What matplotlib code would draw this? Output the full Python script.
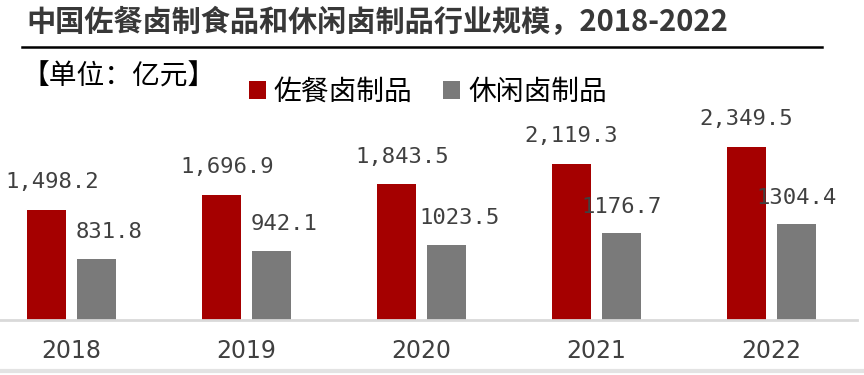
import matplotlib

matplotlib.use('Agg')
import matplotlib.pyplot as plt
import numpy as np
from matplotlib.lines import Line2D

plt.rcParams['font.family'] = ['Noto Sans CJK SC', 'DejaVu Sans']

# 数据
anni = ['2018', '2019', '2020', '2021', '2022']
zuocan = [1498.2, 1696.9, 1843.5, 2119.3, 2349.5]
xiuxian = [831.8, 942.1, 1023.5, 1176.7, 1304.4]
etichette_zuocan = ['1,498.2', '1,696.9', '1,843.5', '2,119.3', '2,349.5']
etichette_xiuxian = ['831.8', '942.1', '1023.5', '1176.7', '1304.4']

rosso = '#a50000'
grigio = '#7a7a7a'

W, H = 864, 375
fig = plt.figure(figsize=(W / 100, H / 100), dpi=100)

# area del grafico in pixel: x 0..857, y 100..320
ax = fig.add_axes([0, (H - 320) / H, 857 / W, 220 / H])
x = np.arange(len(anni))
w = 0.223
off = 0.143
b1 = ax.bar(x - off, zuocan, w, color=rosso, label='佐餐卤制品')
b2 = ax.bar(x + off, xiuxian, w, color=grigio, label='休闲卤制品')

# piccoli spostamenti orizzontali delle etichette (in punti)
sposta_rosso = [4, 4, 4, 0, 0]
sposta_grigio = [9, 9, 9, 0, 0]

for xi, v, t, dx in zip(x, zuocan, etichette_zuocan, sposta_rosso):
    ax.annotate(t, (xi - off, v), xytext=(dx, 20), textcoords='offset points',
                ha='center', va='center', fontsize=16, color='#404040',
                family='DejaVu Sans Mono')
for xi, v, t, dx in zip(x, xiuxian, etichette_xiuxian, sposta_grigio):
    ax.annotate(t, (xi + off, v), xytext=(dx, 19), textcoords='offset points',
                ha='center', va='center', fontsize=16, color='#404040',
                family='DejaVu Sans Mono')

ax.set_xlim(-0.409, 4.489)
ax.set_ylim(0, 2990)
ax.set_xticks(x)
ax.set_xticklabels(anni, fontsize=17, color='#404040', family='DejaVu Sans')
ax.tick_params(axis='x', length=0, pad=14)
ax.set_yticks([])
for s in ['top', 'left', 'right']:
    ax.spines[s].set_visible(False)
ax.spines['bottom'].set_color('#d9d9d9')
ax.spines['bottom'].set_linewidth(2)

# titolo e linea
fig.text(26 / W, 1 - 22 / H, '中国佐餐卤制食品和休闲卤制品行业规模，2018-2022',
         fontsize=21, fontweight='bold', color='#383838', va='center', ha='left')
fig.add_artist(Line2D([22 / W, 822 / W], [1 - 47 / H, 1 - 47 / H], color='black', lw=1.8))
fig.add_artist(Line2D([0, 1], [1 - 371 / H, 1 - 371 / H], color='#e3e3e3', lw=3))

fig.text(22 / W, 1 - 77 / H, '【单位：亿元】', fontsize=20, color='black', va='center', ha='left')

fig.legend(handles=[b1, b2], loc='center left', bbox_to_anchor=(249 / W, 1 - 92 / H),
           ncol=2, frameon=False, fontsize=20, handlelength=0.6, handleheight=0.6,
           handletextpad=0.3, columnspacing=1.1, borderpad=0, borderaxespad=0)

fig.savefig('out.png', dpi=100)
